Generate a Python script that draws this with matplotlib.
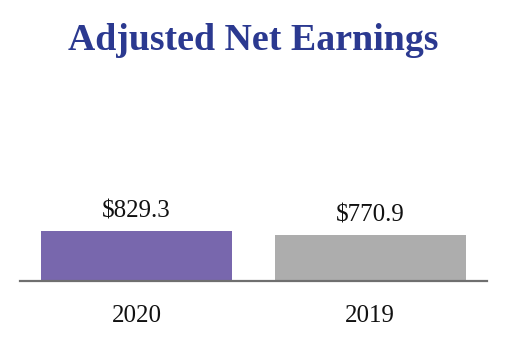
import matplotlib
matplotlib.use('Agg')
import matplotlib.pyplot as plt

# Chart data
years = ['2020', '2019']
earnings = [829.3, 770.9]
bar_colors = ['#7867ad', '#adadad']
title_text = 'Adjusted Net Earnings'


def main():
    plt.rcParams['font.family'] = ['Liberation Serif', 'DejaVu Serif']

    fig = plt.figure(figsize=(5.06, 3.46), dpi=100)
    W, H = 506, 346

    # axes box in pixels: left 20, right 487, baseline at y=281 (from top)
    ax_h = 150
    ax = fig.add_axes([20 / W, 65 / H, 467 / W, ax_h / H])

    x = list(range(len(years)))
    ax.bar(x, earnings, width=0.82, color=bar_colors, zorder=2)

    ax.set_xlim(-0.5, 1.5)
    ax.set_ylim(0, ax_h * 16.6)

    # value labels above bars
    for xi, v in zip(x, earnings):
        ax.annotate(f'${v:.1f}', xy=(xi, v), xytext=(0, 9.5),
                    textcoords='offset points', ha='center', va='baseline',
                    fontsize=18, color='#111111')

    # baseline only
    for side in ['top', 'right', 'left']:
        ax.spines[side].set_visible(False)
    ax.spines['bottom'].set_color('#6f6f6f')
    ax.spines['bottom'].set_linewidth(1.6)
    ax.spines['bottom'].set_zorder(3)

    ax.set_yticks([])
    ax.set_xticks(x)
    ax.set_xticklabels(years, fontsize=18, color='#111111')
    ax.tick_params(axis='x', length=0, pad=17)

    fig.text(0.5, 1 - 50 / H, title_text, ha='center', va='baseline',
             fontsize=27.3, fontweight='bold', color='#2b3990')

    fig.savefig('out.png', dpi=100, facecolor='white')


if __name__ == '__main__':
    main()
